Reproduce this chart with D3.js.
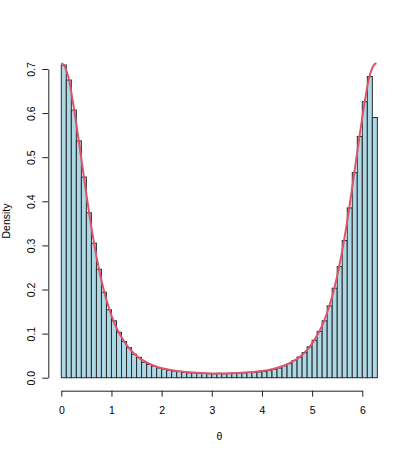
<!DOCTYPE html>
<html>
<head>
<meta charset="utf-8">
<script src="https://cdn.jsdelivr.net/npm/d3@7"></script>
<style>
  body { margin: 0; background: #fff; }
  svg { display: block; font-family: "Liberation Sans", Arial, sans-serif; }
</style>
</head>
<body>
<svg id="chart" width="415" height="457"></svg>
<script>
// histogram bins (left edge of each 0.1-wide bin) and their densities
var binLeft = [0.0, 0.1, 0.2, 0.3, 0.4, 0.5, 0.6, 0.7, 0.8, 0.9,
               1.0, 1.1, 1.2, 1.3, 1.4, 1.5, 1.6, 1.7, 1.8, 1.9,
               2.0, 2.1, 2.2, 2.3, 2.4, 2.5, 2.6, 2.7, 2.8, 2.9,
               3.0, 3.1, 3.2, 3.3, 3.4, 3.5, 3.6, 3.7, 3.8, 3.9,
               4.0, 4.1, 4.2, 4.3, 4.4, 4.5, 4.6, 4.7, 4.8, 4.9,
               5.0, 5.1, 5.2, 5.3, 5.4, 5.5, 5.6, 5.7, 5.8, 5.9,
               6.0, 6.1, 6.2];
var binWidth = 0.1;
var density = [0.709, 0.675, 0.607, 0.537, 0.455, 0.374, 0.305, 0.246, 0.194, 0.154,
               0.129, 0.103, 0.082, 0.068, 0.053, 0.046, 0.035, 0.030, 0.026, 0.022,
               0.020, 0.017, 0.015, 0.014, 0.012, 0.011, 0.011, 0.010, 0.010, 0.009,
               0.009, 0.010, 0.009, 0.010, 0.010, 0.011, 0.011, 0.012, 0.012, 0.013,
               0.014, 0.016, 0.019, 0.022, 0.027, 0.032, 0.039, 0.047, 0.057, 0.070,
               0.085, 0.105, 0.129, 0.163, 0.203, 0.252, 0.311, 0.385, 0.465, 0.547,
               0.626, 0.683, 0.590];

// fitted density curve
var curveX = [0, 0.05, 0.15, 0.25, 0.35, 0.45, 0.55, 0.65, 0.75, 0.85, 0.95, 1.05, 1.15,
              1.25, 1.35, 1.45, 1.55, 1.65, 1.75, 1.9, 2.1, 2.3, 2.5, 2.7, 2.9, 3.14,
              3.4, 3.6, 3.8, 4.0, 4.2, 4.4, 4.53, 4.63, 4.73, 4.83, 4.93, 5.03, 5.13,
              5.23, 5.33, 5.43, 5.53, 5.63, 5.73, 5.83, 5.93, 6.03, 6.13, 6.23, 6.283];
var curveY = [0.713, 0.709, 0.677, 0.612, 0.536, 0.456, 0.377, 0.307, 0.247, 0.197, 0.158, 0.126, 0.102,
              0.083, 0.067, 0.055, 0.045, 0.038, 0.032, 0.025, 0.019, 0.015, 0.013, 0.011, 0.010, 0.0095,
              0.010, 0.011, 0.013, 0.015, 0.019, 0.026, 0.032, 0.038, 0.045, 0.055, 0.067, 0.083, 0.102,
              0.126, 0.158, 0.197, 0.247, 0.307, 0.377, 0.456, 0.536, 0.612, 0.677, 0.709, 0.713];

var xTicks = [0, 1, 2, 3, 4, 5, 6];
var yTicks = [0, 0.1, 0.2, 0.3, 0.4, 0.5, 0.6, 0.7];

var svg = d3.select("#chart");

var xScale = d3.scaleLinear().domain([0, 6]).range([61.3, 362.3]);
var yScale = d3.scaleLinear().domain([0, 0.7]).range([377.7, 69]);

// bars
svg.append("g")
    .selectAll("rect")
    .data(binLeft)
    .enter()
        .append("rect")
        .attr("x", function (d) { return xScale(d); })
        .attr("width", function (d) { return xScale(d + binWidth) - xScale(d); })
        .attr("y", function (d, i) { return yScale(density[i]); })
        .attr("height", function (d, i) { return yScale(0) - yScale(density[i]); })
        .attr("fill", "#ADD8E6")
        .attr("stroke", "#2b2b2b")
        .attr("stroke-width", 1);

// density curve
var line = d3.line()
    .x(function (d) { return xScale(d); })
    .y(function (d, i) { return yScale(curveY[i]); })
    .curve(d3.curveMonotoneX);

svg.append("path")
    .datum(curveX)
    .attr("d", line)
    .attr("fill", "none")
    .attr("stroke", "#DF536B")
    .attr("stroke-width", 2);

// X axis
var xAxis = svg.append("g")
    .attr("transform", "translate(0,390.7)")
    .call(d3.axisBottom(xScale).tickValues(xTicks).tickSize(6).tickSizeOuter(0).tickFormat(d3.format("d")));
xAxis.selectAll("text")
    .attr("y", 23.3)
    .attr("dy", 0)
    .attr("fill", "#000")
    .style("font-size", "10.5px");

// Y axis
var yAxis = svg.append("g")
    .attr("transform", "translate(48.3,0)")
    .call(d3.axisLeft(yScale).tickValues(yTicks).tickSize(6).tickSizeOuter(0).tickFormat(d3.format(".1f")));
yAxis.selectAll("text")
    .attr("x", 0)
    .attr("dy", "0.35em")
    .attr("text-anchor", "middle")
    .attr("transform", "translate(-16.6,0) rotate(-90)")
    .attr("fill", "#000")
    .style("font-size", "10.5px");

svg.selectAll(".domain, .tick line").attr("stroke", "#222");

// axis titles
svg.append("text")
    .attr("x", xScale(3.15))
    .attr("y", 440)
    .attr("text-anchor", "middle")
    .style("font-size", "10.5px")
    .text("θ");

svg.append("text")
    .attr("transform", "translate(10.3,221) rotate(-90)")
    .attr("text-anchor", "middle")
    .style("font-size", "10.5px")
    .text("Density");
</script>
</body>
</html>
